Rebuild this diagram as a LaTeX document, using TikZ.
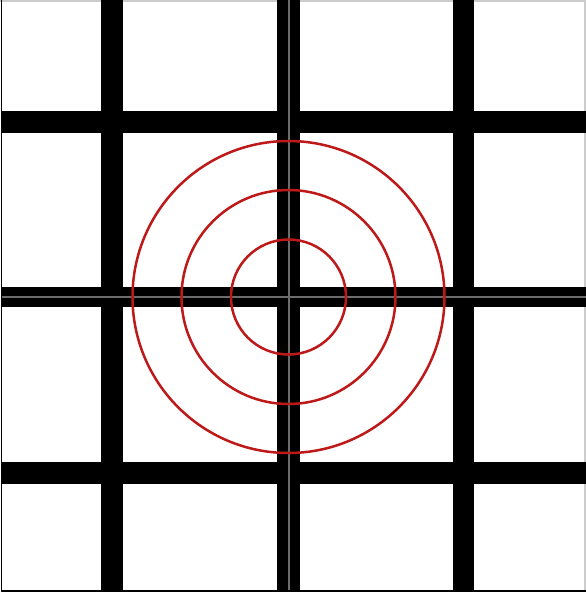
\documentclass[tikz,border=0pt]{standalone}
\begin{document}
\begin{tikzpicture}[x=1pt,y=-1pt,declare function={xc=288.5;yc=297;}]
	\definecolor{ringred}{RGB}{190,25,25}
	\useasboundingbox (0,0) rectangle (586,595);
	\fill[white] (0,0) rectangle (586,595);
	% frame
	\draw[gray!40,line width=1.5] (0,1) -- (585,1) -- (585,590);
	\draw[black,line width=1.5] (1.5,0) -- (1.5,591) -- (586,591);
	% bars
	\foreach \a/\b in {101/123,277/300,453/474}
		\fill[black] (\a,0) rectangle (\b,590);
	\foreach \a/\b in {111/133,287/307,462/484}
		\fill[black] (2,\a) rectangle (586,\b);
	\draw[gray!85!black,line width=2] (xc,0) -- (xc,590);
	\draw[gray!85!black,line width=2] (2,yc) -- (586,yc);
	% rings
	\foreach \r in {57.5,107,156}
		\draw[ringred,line width=2.5] (xc,yc) circle (\r);
\end{tikzpicture}
\end{document}
